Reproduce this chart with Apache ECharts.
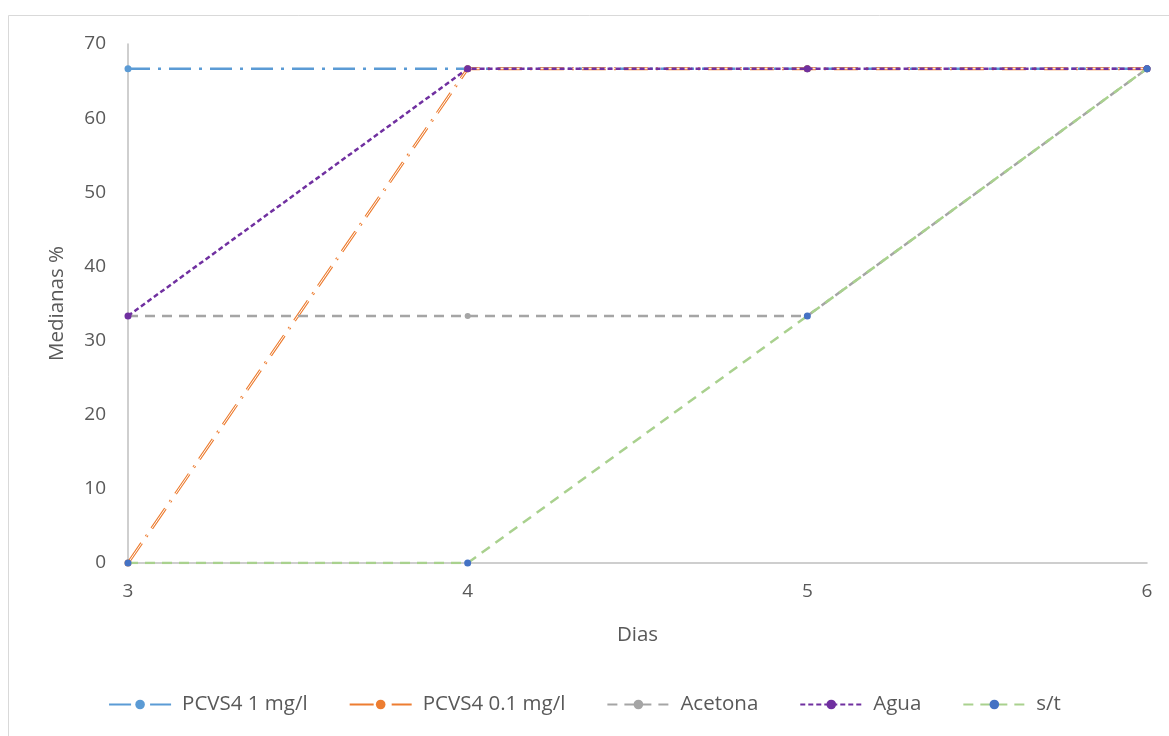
<!DOCTYPE html>
<html>
<head>
<meta charset="utf-8">
<script src="https://cdn.jsdelivr.net/npm/echarts@6/dist/echarts.min.js"></script>
<style>html,body{margin:0;padding:0;background:#fff}#c{width:1169px;height:736px}</style>
</head>
<body>
<div id="c"></div>
<script>
const categories = ['3', '4', '5', '6'];
const pcvs1 = [66.67, 66.67, 66.67, 66.67];
const pcvs01 = [0, 66.67, 66.67, 66.67];
const acetona = [33.33, 33.33, 33.33, 66.67];
const agua = [33.33, 66.67, 66.67, 66.67];
const st = [0, 0, 33.33, 66.67];
const yTicks = [0, 10, 20, 30, 40, 50, 60, 70];

const font = '"Open Sans", "Liberation Sans", sans-serif';
const chart = echarts.init(document.getElementById('c'), null, {renderer: 'canvas'});
chart.setOption({
  animation: false,
  backgroundColor: '#fff',
  graphic: [{
    type: 'rect', shape: {x: 8.5, y: 15.5, width: 1180, height: 760},
    style: {fill: 'none', stroke: '#d9d9d9', lineWidth: 1}, silent: true, z: -10
  }],
  grid: {left: 128, right: 22, top: 44, bottom: 173},
  legend: {
    bottom: 16, left: 'center', itemWidth: 62, itemHeight: 12, itemGap: 41,
    textStyle: {fontFamily: font, fontSize: 20.5, color: '#595959', padding: [0, 0, 0, 6]},
    data: ['PCVS4 1 mg/l', 'PCVS4 0.1 mg/l', 'Acetona', 'Agua', 's/t']
  },
  xAxis: {
    type: 'category', data: categories, boundaryGap: false,
    name: 'Dias', nameLocation: 'middle', nameGap: 62,
    nameTextStyle: {fontFamily: font, fontSize: 20.5, color: '#595959'},
    axisLine: {lineStyle: {color: '#bfbfbf', width: 1.5}},
    axisTick: {show: false},
    axisLabel: {fontFamily: font, fontSize: 19, color: '#595959', margin: 19},
    splitLine: {show: false}
  },
  yAxis: {
    type: 'value', min: 0, max: 70, interval: 10,
    name: 'Medianas %', nameLocation: 'middle', nameGap: 60,
    nameTextStyle: {fontFamily: font, fontSize: 20.5, color: '#595959'},
    axisLine: {show: true, lineStyle: {color: '#bfbfbf', width: 1.5}},
    axisTick: {show: false},
    axisLabel: {fontFamily: font, fontSize: 19, color: '#595959', margin: 22,
      formatter: v => yTicks.includes(v) ? String(v) : ''},
    splitLine: {show: false}
  },
  series: [
    {name: 'PCVS4 1 mg/l', type: 'line', data: pcvs1, symbol: 'circle', symbolSize: 7,
     itemStyle: {color: '#5B9BD5'},
     lineStyle: {color: '#5B9BD5', width: 2.5, type: [22, 8, 3, 8]}, z: 2},
    {name: 'PCVS4 0.1 mg/l', type: 'line', data: pcvs01, symbol: 'circle', symbolSize: 7,
     itemStyle: {color: '#ED7D31'},
     lineStyle: {color: '#ED7D31', width: 3, type: [24, 8, 2, 8]}, z: 3},
    {name: 'PCVS4 0.1 mg/l overlay', type: 'line', data: pcvs01, symbol: 'none',
     lineStyle: {color: '#ffffff', width: 1, type: [24, 8, 2, 8]}, z: 3, silent: true},
    {name: 'Acetona', type: 'line', data: acetona, symbol: 'circle', symbolSize: 6,
     itemStyle: {color: '#A5A5A5'},
     lineStyle: {color: '#A5A5A5', width: 2.5, type: [10, 7]}, z: 4},
    {name: 'Agua', type: 'line', data: agua, symbol: 'circle', symbolSize: 7,
     itemStyle: {color: '#7030A0'},
     lineStyle: {color: '#7030A0', width: 2.5, type: [5, 3]}, z: 5},
    {name: 's/t', type: 'line', data: st, symbol: 'circle', symbolSize: 7,
     itemStyle: {color: '#4472C4'},
     lineStyle: {color: '#A9D18E', width: 2.5, type: [10, 7]}, z: 6}
  ]
});
</script>
</body>
</html>
